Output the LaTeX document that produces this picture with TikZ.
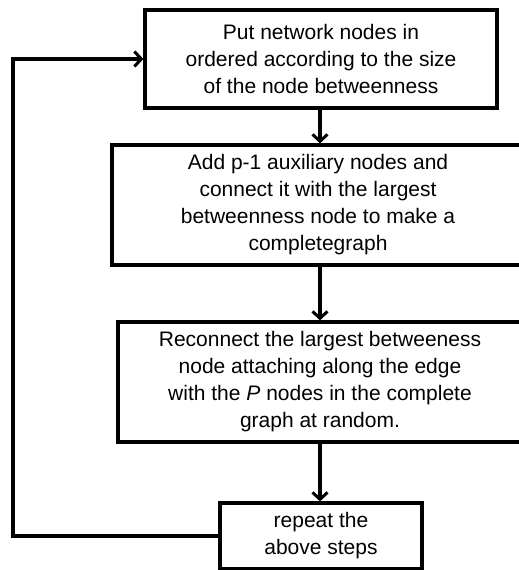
\documentclass[tikz,border=0pt]{standalone}
\usepackage{fontspec}
\setmainfont{Liberation Sans}
\usetikzlibrary{arrows.meta}
\begin{document}
\begin{tikzpicture}[x=1pt,y=-1pt,
  box/.style={draw, line width=3.2pt, align=center, inner sep=0pt,
    font=\fontsize{21}{27}\selectfont},
  flow/.style={line width=3.2pt, -{Straight Barb[length=7pt,width=15pt,line width=3pt]}}]
\useasboundingbox (0,0) rectangle (519,570);
\clip (0,0) rectangle (519,570);
\node[box, minimum width=352, minimum height=98] (b1) at (321,59)
  {Put network nodes in\\ordered according to the size\\of the node betweenness};
\node[box, minimum width=412, minimum height=120] (b2) at (318,205)
  {Add p-1 auxiliary nodes and\\connect it with the largest\\betweenness node to make a\\completegraph};
\node[box, minimum width=404, minimum height=120] (b3) at (320,382)
  {Reconnect the largest betweeness\\node attaching along the edge\\with the \textit{P} nodes in the complete\\graph at random.};
\node[box, minimum width=202, minimum height=66] (b4) at (321,536)
  {repeat the\\above steps};
\coordinate (c) at (13,536);
\draw[flow] (b1.south -| 320,0) -- (b2.north -| 320,0);
\draw[flow] (b2.south -| 320,0) -- (b3.north -| 320,0);
\draw[flow] (b3.south -| 320,0) -- (b4.north -| 320,0);
\draw[flow] (b4.west) -- (c) |- (b1.west);
\end{tikzpicture}
\end{document}
